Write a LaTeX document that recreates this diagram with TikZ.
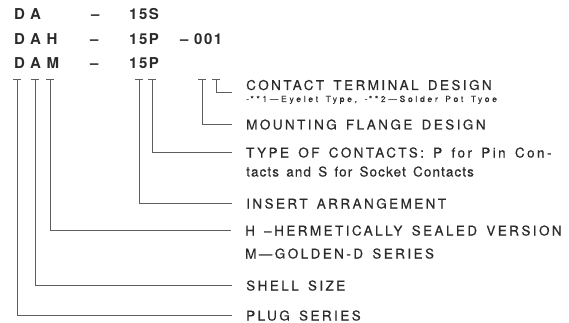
\documentclass[tikz,border=0pt]{standalone}
\usepackage{fontspec}
\setmainfont{TeX Gyre Heros}
\usetikzlibrary{positioning, calc}
\newfontfamily\codefont[LetterSpace=38]{TeX Gyre Heros}
\newfontfamily\numfont[LetterSpace=10]{TeX Gyre Heros}
\newfontfamily\descfont[LetterSpace=18, WordSpace=1.5, FakeBold=0.4]{TeX Gyre Heros}
\newfontfamily\contfont[LetterSpace=8, WordSpace=1.5, FakeBold=0.4]{TeX Gyre Heros}
\newfontfamily\notefont[LetterSpace=32, WordSpace=1.5, FakeBold=0.3]{TeX Gyre Heros}
\definecolor{InkGray}{HTML}{2B2B2B}
\definecolor{LeadGray}{HTML}{5E5E5E}
\tikzset{
    code/.style={anchor=base west, inner sep=0pt, text=InkGray, font=\codefont\bfseries\fontsize{15}{17}\selectfont},
    num/.style={code, font=\numfont\bfseries\fontsize{15}{17}\selectfont},
    desc/.style={anchor=base west, inner sep=0pt, text=InkGray, font=\descfont\fontsize{13.5}{15}\selectfont},
    cont/.style={desc, font=\contfont\fontsize{13.5}{15}\selectfont},
    note/.style={desc, font=\notefont\fontsize{8.5}{10}\selectfont},
    lead/.style={draw=LeadGray, line width=1pt, shorten >=14pt},
    tbar/.style={draw=LeadGray, line width=1pt}
}

\begin{document}
\begin{tikzpicture}[x=1pt, y=-1pt]
    \useasboundingbox (0,0) rectangle (569,323);

    % Part number rows
    \node[code] (prefDA) at (14,20) {DA};
    \node[num] (dashDA) at (91,20) {–};
    \node[num] (numDA) at (129,20) {15S};
    \node[code] (prefDAH) at (14,45) {DAH};
    \node[num] (dashDAH) at (90,45) {–};
    \node[num] (numDAH) at (129,45) {15P};
    \node[num] (sufDAH) at (180,45) {– 001};
    \node[code] (prefDAM) at (14,68.5) {DAM};
    \node[num] (dashDAM) at (90,68.5) {–};
    \node[num] (numDAM) at (129,68.5) {15P};

    % Descriptions
    \node[desc] (lblterm) at (246,90) {CONTACT TERMINAL DESIGN};
    \node[note, below=12pt of lblterm.base west, anchor=base west] (noteterm) {-\,**1—Eyelet Type, -\,**2—Solder Pot Tyoe};
    \node[desc] (lblflange) at (246,129.5) {MOUNTING FLANGE DESIGN};
    \node[desc] (lbltype) at (246,157.5) {TYPE OF CONTACTS: P for Pin Con-};
    \node[cont, below=19pt of lbltype.base west, anchor=base west] (notetype) {tacts and S for Socket Contacts};
    \node[desc] (lblinsert) at (246,208.5) {INSERT ARRANGEMENT};
    \node[desc] (lblseries) at (245,235.5) {H –HERMETICALLY SEALED VERSION};
    \node[desc, below=23pt of lblseries.base west, anchor=base west] (noteseries) {M—GOLDEN-D SERIES};
    \node[desc] (lblshell) at (246,290.5) {SHELL SIZE};
    \node[desc] (lblplug) at (246,320.5) {PLUG SERIES};

    % Tick marks under the code
    \coordinate (tkPlug) at (17,80);
    \coordinate (tkShell) at (35,80);
    \coordinate (tkSeries) at (50,80);
    \coordinate (tkInsert) at (139,80);
    \coordinate (tkType) at (152,80);
    \coordinate (tkFlange) at (202,80);
    \coordinate (tkTerm) at (216,80);
    \foreach \tk in {tkPlug, tkShell, tkSeries, tkInsert, tkType, tkFlange, tkTerm}
        \draw[tbar] ([xshift=-4pt]\tk) -- ([xshift=4pt]\tk);

    % Leaders
    \draw[lead] (tkTerm) |- ($(lblterm.west)!0.5!(noteterm.west)$);
    \draw[lead] (tkFlange) |- (lblflange.west);
    \draw[lead] (tkType) |- (lbltype.west);
    \draw[lead] (tkInsert) |- (lblinsert.west);
    \draw[lead] (tkSeries) |- (lblseries.west);
    \draw[lead] (tkShell) |- (lblshell.west);
    \draw[lead] (tkPlug) |- (lblplug.west);
\end{tikzpicture}
\end{document}
